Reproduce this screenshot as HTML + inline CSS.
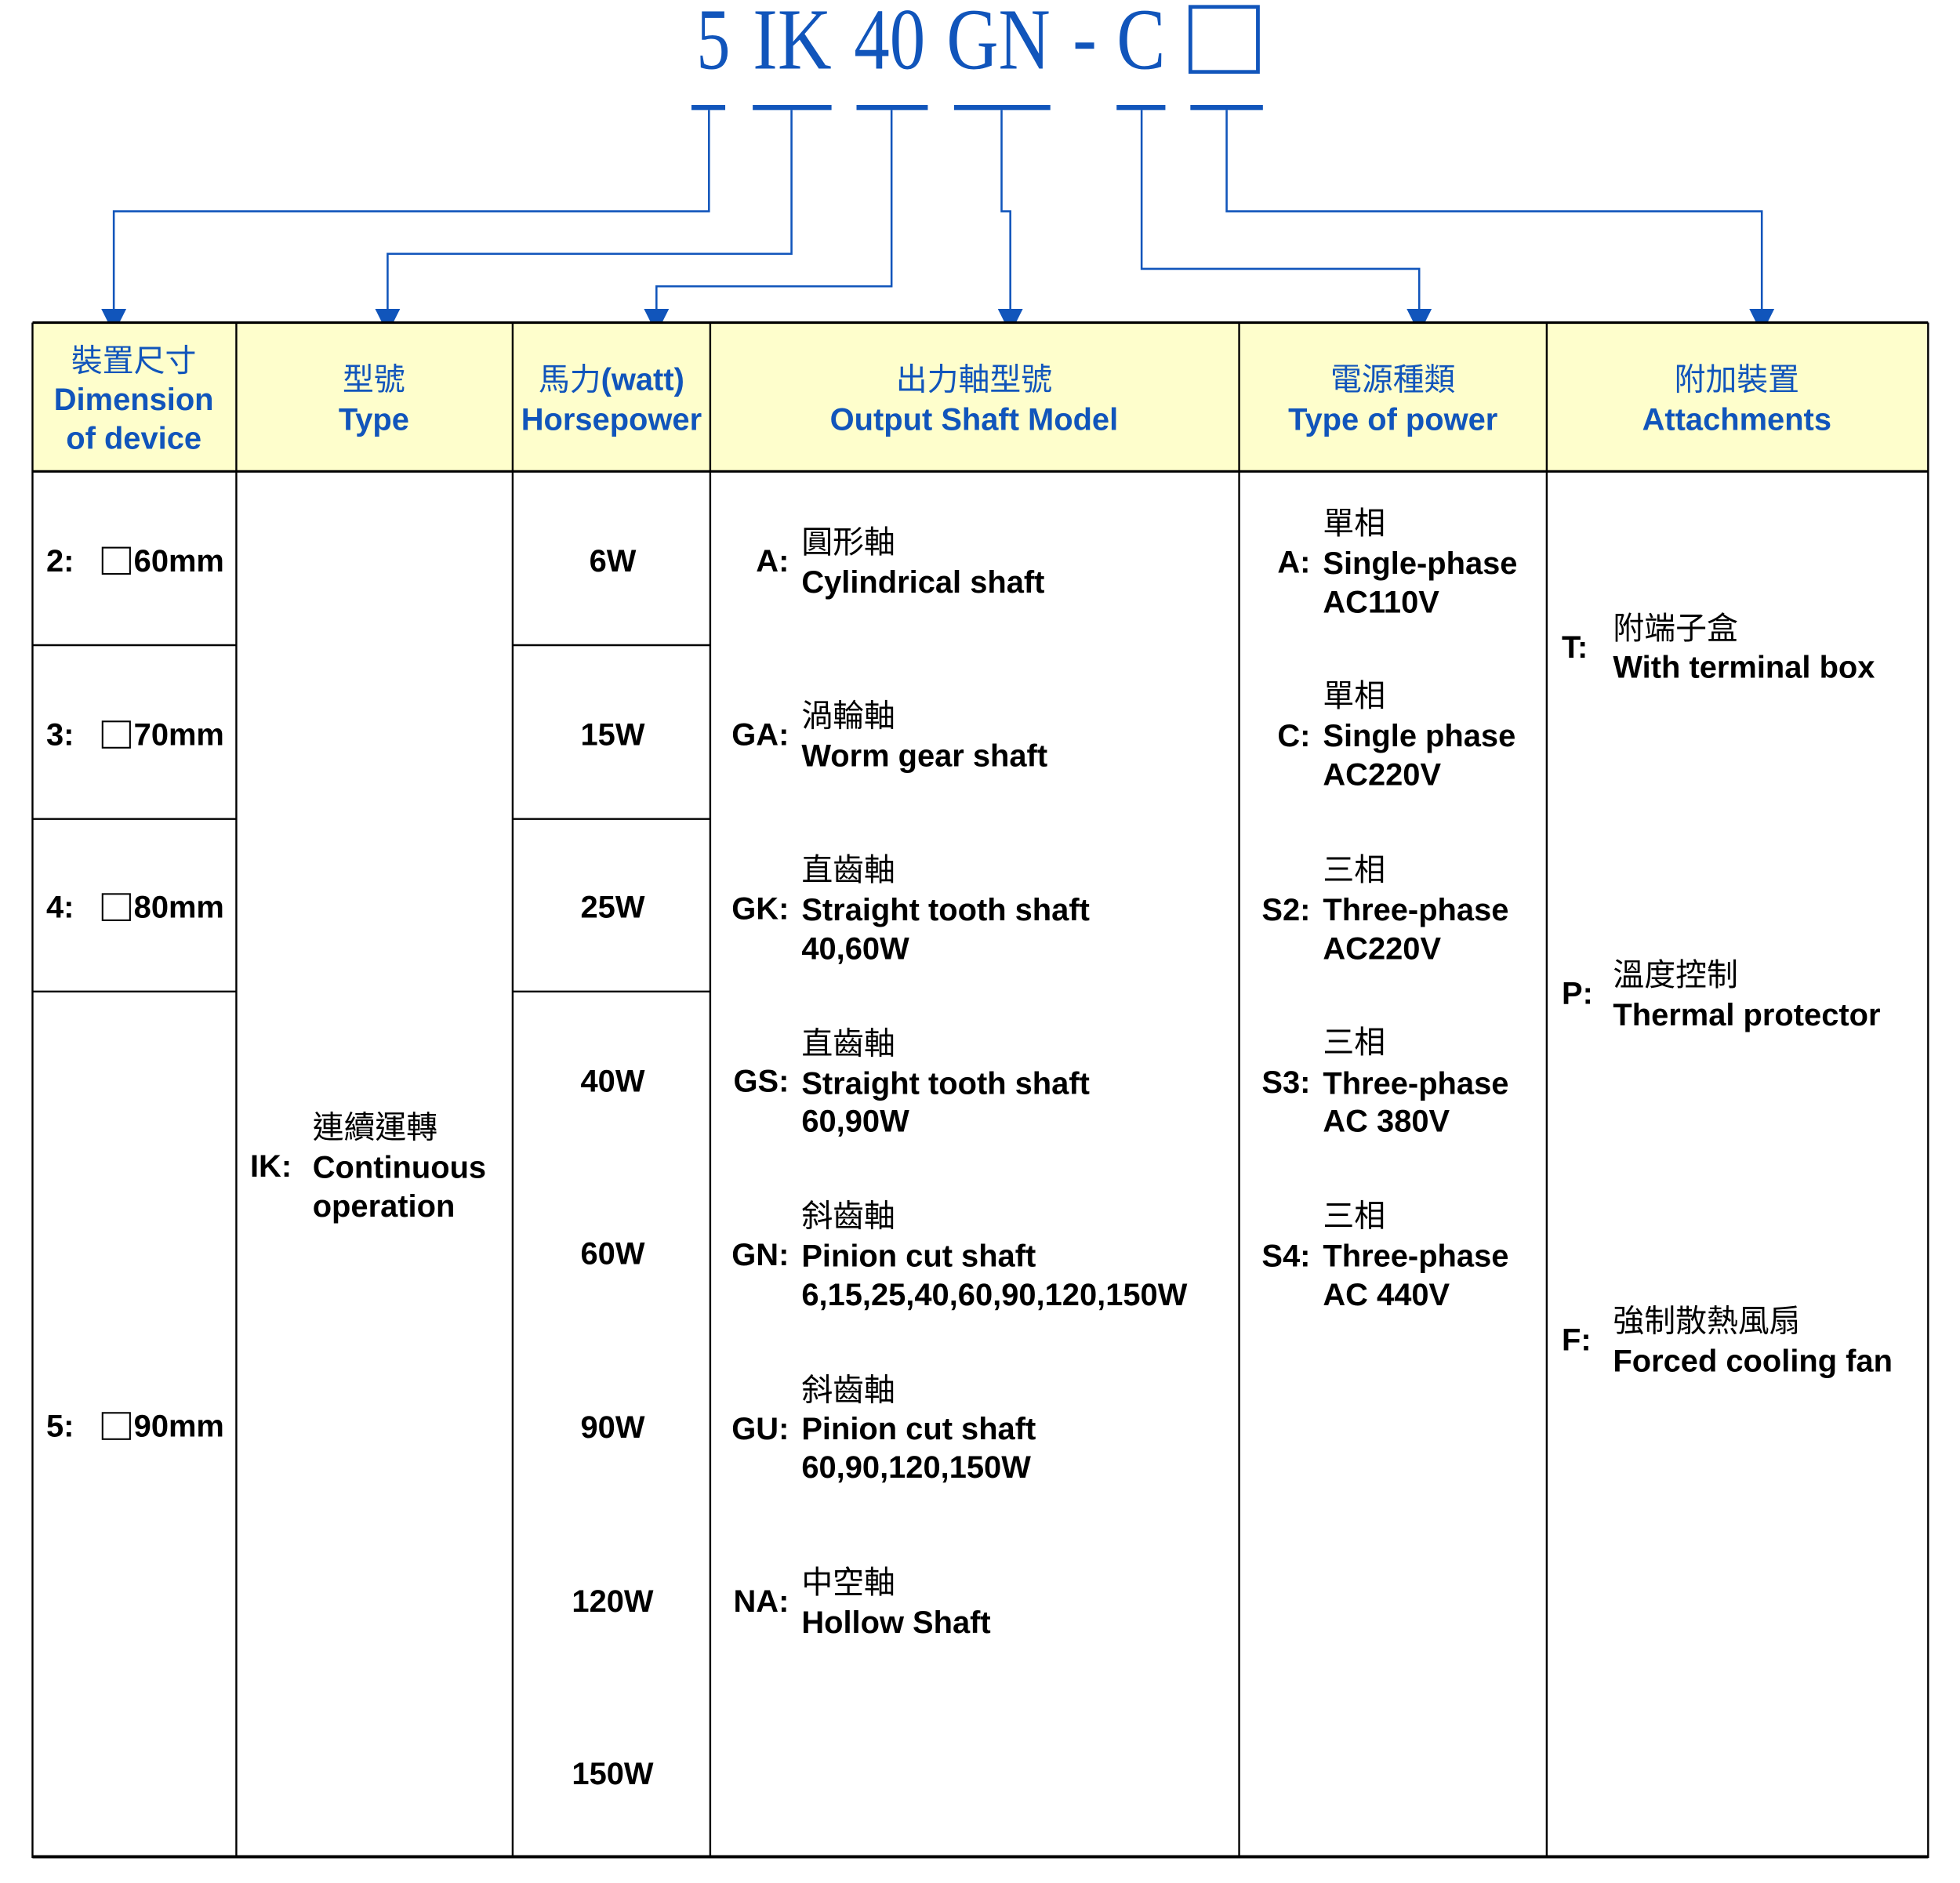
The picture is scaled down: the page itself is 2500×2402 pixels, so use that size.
<!DOCTYPE html>
<html><head><meta charset="utf-8">
<style>
html,body{margin:0;padding:0;background:#fff;}
svg{display:block;}
.h{font-family:"Liberation Sans","Noto Sans CJK TC",sans-serif;font-weight:bold;font-size:25px;fill:#1155bb;}
.b{font-family:"Liberation Sans","Noto Sans CJK TC",sans-serif;font-weight:bold;font-size:25px;fill:#000;}
.c{font-family:"Noto Sans CJK TC","WenQuanYi Zen Hei",sans-serif;font-weight:normal;font-size:25px;fill:#000;}
.hc{font-family:"Noto Sans CJK TC","WenQuanYi Zen Hei",sans-serif;font-weight:normal;font-size:25px;fill:#1155bb;}
.t{font-family:"Liberation Serif",serif;font-size:70px;fill:#1155bb;}
</style></head>
<body>
<svg width="2500" height="2402" viewBox="0 0 1567.5 1506" preserveAspectRatio="none" xmlns="http://www.w3.org/2000/svg">
<!-- title -->
<text class="t" x="557" y="55" textLength="27" lengthAdjust="spacingAndGlyphs">5</text>
<text class="t" x="602" y="55" textLength="63" lengthAdjust="spacingAndGlyphs">IK</text>
<text class="t" x="683" y="55" textLength="57" lengthAdjust="spacingAndGlyphs">40</text>
<text class="t" x="757" y="55" textLength="83" lengthAdjust="spacingAndGlyphs">GN</text>
<rect x="860" y="34" width="15" height="5" fill="#1155bb"/>
<text class="t" x="893" y="55" textLength="39" lengthAdjust="spacingAndGlyphs">C</text>
<rect x="952" y="5.5" width="54" height="52" fill="none" stroke="#1155bb" stroke-width="3"/>
<!-- underlines -->
<g fill="#1155bb">
<rect x="553" y="84" width="27" height="4"/>
<rect x="602" y="84" width="63" height="4"/>
<rect x="685" y="84" width="57" height="4"/>
<rect x="763" y="84" width="77" height="4"/>
<rect x="893" y="84" width="39" height="4"/>
<rect x="952" y="84" width="58" height="4"/>
</g>
<!-- connectors -->
<g fill="none" stroke="#1155bb" stroke-width="1.6">
<polyline points="567,88 567,169 91,169 91,250"/>
<polyline points="633,88 633,203 310,203 310,250"/>
<polyline points="713,88 713,229 525,229 525,250"/>
<polyline points="801,88 801,169 808,169 808,250"/>
<polyline points="913,88 913,215 1135,215 1135,250"/>
<polyline points="981,88 981,169 1409,169 1409,250"/>
</g>
<g fill="#1155bb">
<polygon points="81,247 101,247 91,267"/>
<polygon points="300,247 320,247 310,267"/>
<polygon points="515,247 535,247 525,267"/>
<polygon points="798,247 818,247 808,267"/>
<polygon points="1125,247 1145,247 1135,267"/>
<polygon points="1399,247 1419,247 1409,267"/>
</g>
<!-- table -->
<rect x="26" y="258" width="1516" height="119" fill="#fefecc"/>
<g stroke="#000" stroke-width="1.5" fill="none">
<line x1="26" y1="258" x2="1542" y2="258" stroke-width="2"/>
<line x1="26" y1="377" x2="1542" y2="377" stroke-width="2"/>
<line x1="26" y1="1485" x2="1542" y2="1485" stroke-width="2.5"/>
<line x1="26" y1="258" x2="26" y2="1486"/>
<line x1="189" y1="258" x2="189" y2="1486"/>
<line x1="410" y1="258" x2="410" y2="1486"/>
<line x1="568" y1="258" x2="568" y2="1486"/>
<line x1="991" y1="258" x2="991" y2="1486"/>
<line x1="1237" y1="258" x2="1237" y2="1486"/>
<line x1="1542" y1="258" x2="1542" y2="1486"/>
<line x1="26" y1="516" x2="189" y2="516"/>
<line x1="26" y1="655" x2="189" y2="655"/>
<line x1="26" y1="793" x2="189" y2="793"/>
<line x1="410" y1="516" x2="568" y2="516"/>
<line x1="410" y1="655" x2="568" y2="655"/>
<line x1="410" y1="793" x2="568" y2="793"/>
</g>
<!-- headers -->
<g text-anchor="middle">
<text class="hc" x="107" y="297">裝置尺寸</text>
<text class="h" x="107" y="328">Dimension</text>
<text class="h" x="107" y="359">of device</text>
<text class="hc" x="299" y="312">型號</text>
<text class="h" x="299" y="344">Type</text>
<text class="h" x="489" y="312"><tspan class="hc">馬力</tspan>(watt)</text>
<text class="h" x="489" y="344">Horsepower</text>
<text class="hc" x="779" y="312">出力軸型號</text>
<text class="h" x="779" y="344">Output Shaft Model</text>
<text class="hc" x="1114" y="312">電源種類</text>
<text class="h" x="1114" y="344">Type of power</text>
<text class="hc" x="1389" y="312">附加裝置</text>
<text class="h" x="1389" y="344">Attachments</text>
</g>
<!-- col1 -->
<g class="b">
<text x="37" y="457">2:</text><text x="107" y="457">60mm</text>
<text x="37" y="596">3:</text><text x="107" y="596">70mm</text>
<text x="37" y="734">4:</text><text x="107" y="734">80mm</text>
<text x="37" y="1149">5:</text><text x="107" y="1149">90mm</text>
</g>
<g fill="none" stroke="#000" stroke-width="1.3">
<rect x="82" y="438" width="22" height="21"/>
<rect x="82" y="577" width="22" height="21"/>
<rect x="82" y="715" width="22" height="21"/>
<rect x="82" y="1130" width="22" height="21"/>
</g>
<!-- col2 -->
<text class="b" x="200" y="941">IK:</text>
<text class="c" x="250" y="910">連續運轉</text>
<text class="b" x="250" y="942">Continuous</text>
<text class="b" x="250" y="973">operation</text>
<!-- col3 -->
<g class="b" text-anchor="middle">
<text x="490" y="457">6W</text>
<text x="490" y="596">15W</text>
<text x="490" y="734">25W</text>
<text x="490" y="873">40W</text>
<text x="490" y="1011">60W</text>
<text x="490" y="1150">90W</text>
<text x="490" y="1289">120W</text>
<text x="490" y="1427">150W</text>
</g>
<!-- col4 -->
<g class="b" text-anchor="end">
<text x="631" y="457">A:</text>
<text x="631" y="596">GA:</text>
<text x="631" y="735">GK:</text>
<text x="631" y="873">GS:</text>
<text x="631" y="1012">GN:</text>
<text x="631" y="1151">GU:</text>
<text x="631" y="1289">NA:</text>
</g>
<text class="c" x="641" y="442">圓形軸</text><text class="b" x="641" y="474">Cylindrical shaft</text>
<text class="c" x="641" y="581">渦輪軸</text><text class="b" x="641" y="613">Worm gear shaft</text>
<text class="c" x="641" y="704">直齒軸</text><text class="b" x="641" y="736">Straight tooth shaft</text><text class="b" x="641" y="767">40,60W</text>
<text class="c" x="641" y="843">直齒軸</text><text class="b" x="641" y="875">Straight tooth shaft</text><text class="b" x="641" y="905">60,90W</text>
<text class="c" x="641" y="981">斜齒軸</text><text class="b" x="641" y="1013">Pinion cut shaft</text><text class="b" x="641" y="1044">6,15,25,40,60,90,120,150W</text>
<text class="c" x="641" y="1120">斜齒軸</text><text class="b" x="641" y="1151">Pinion cut shaft</text><text class="b" x="641" y="1182">60,90,120,150W</text>
<text class="c" x="641" y="1274">中空軸</text><text class="b" x="641" y="1306">Hollow Shaft</text>
<!-- col5 -->
<g class="b" text-anchor="end">
<text x="1048" y="458">A:</text>
<text x="1048" y="597">C:</text>
<text x="1048" y="736">S2:</text>
<text x="1048" y="874">S3:</text>
<text x="1048" y="1013">S4:</text>
</g>
<text class="c" x="1058" y="427">單相</text><text class="b" x="1058" y="459">Single-phase</text><text class="b" x="1058" y="490">AC110V</text>
<text class="c" x="1058" y="565">單相</text><text class="b" x="1058" y="597">Single phase</text><text class="b" x="1058" y="628">AC220V</text>
<text class="c" x="1058" y="704">三相</text><text class="b" x="1058" y="736">Three-phase</text><text class="b" x="1058" y="767">AC220V</text>
<text class="c" x="1058" y="842">三相</text><text class="b" x="1058" y="875">Three-phase</text><text class="b" x="1058" y="905">AC 380V</text>
<text class="c" x="1058" y="981">三相</text><text class="b" x="1058" y="1013">Three-phase</text><text class="b" x="1058" y="1044">AC 440V</text>
<!-- col6 -->
<text class="b" x="1249" y="526">T:</text>
<text class="c" x="1290" y="511">附端子盒</text><text class="b" x="1290" y="542">With terminal box</text>
<text class="b" x="1249" y="803">P:</text>
<text class="c" x="1290" y="788">溫度控制</text><text class="b" x="1290" y="820">Thermal protector</text>
<text class="b" x="1249" y="1080">F:</text>
<text class="c" x="1290" y="1065">強制散熱風扇</text><text class="b" x="1290" y="1097">Forced cooling fan</text>
</svg>
</body></html>
